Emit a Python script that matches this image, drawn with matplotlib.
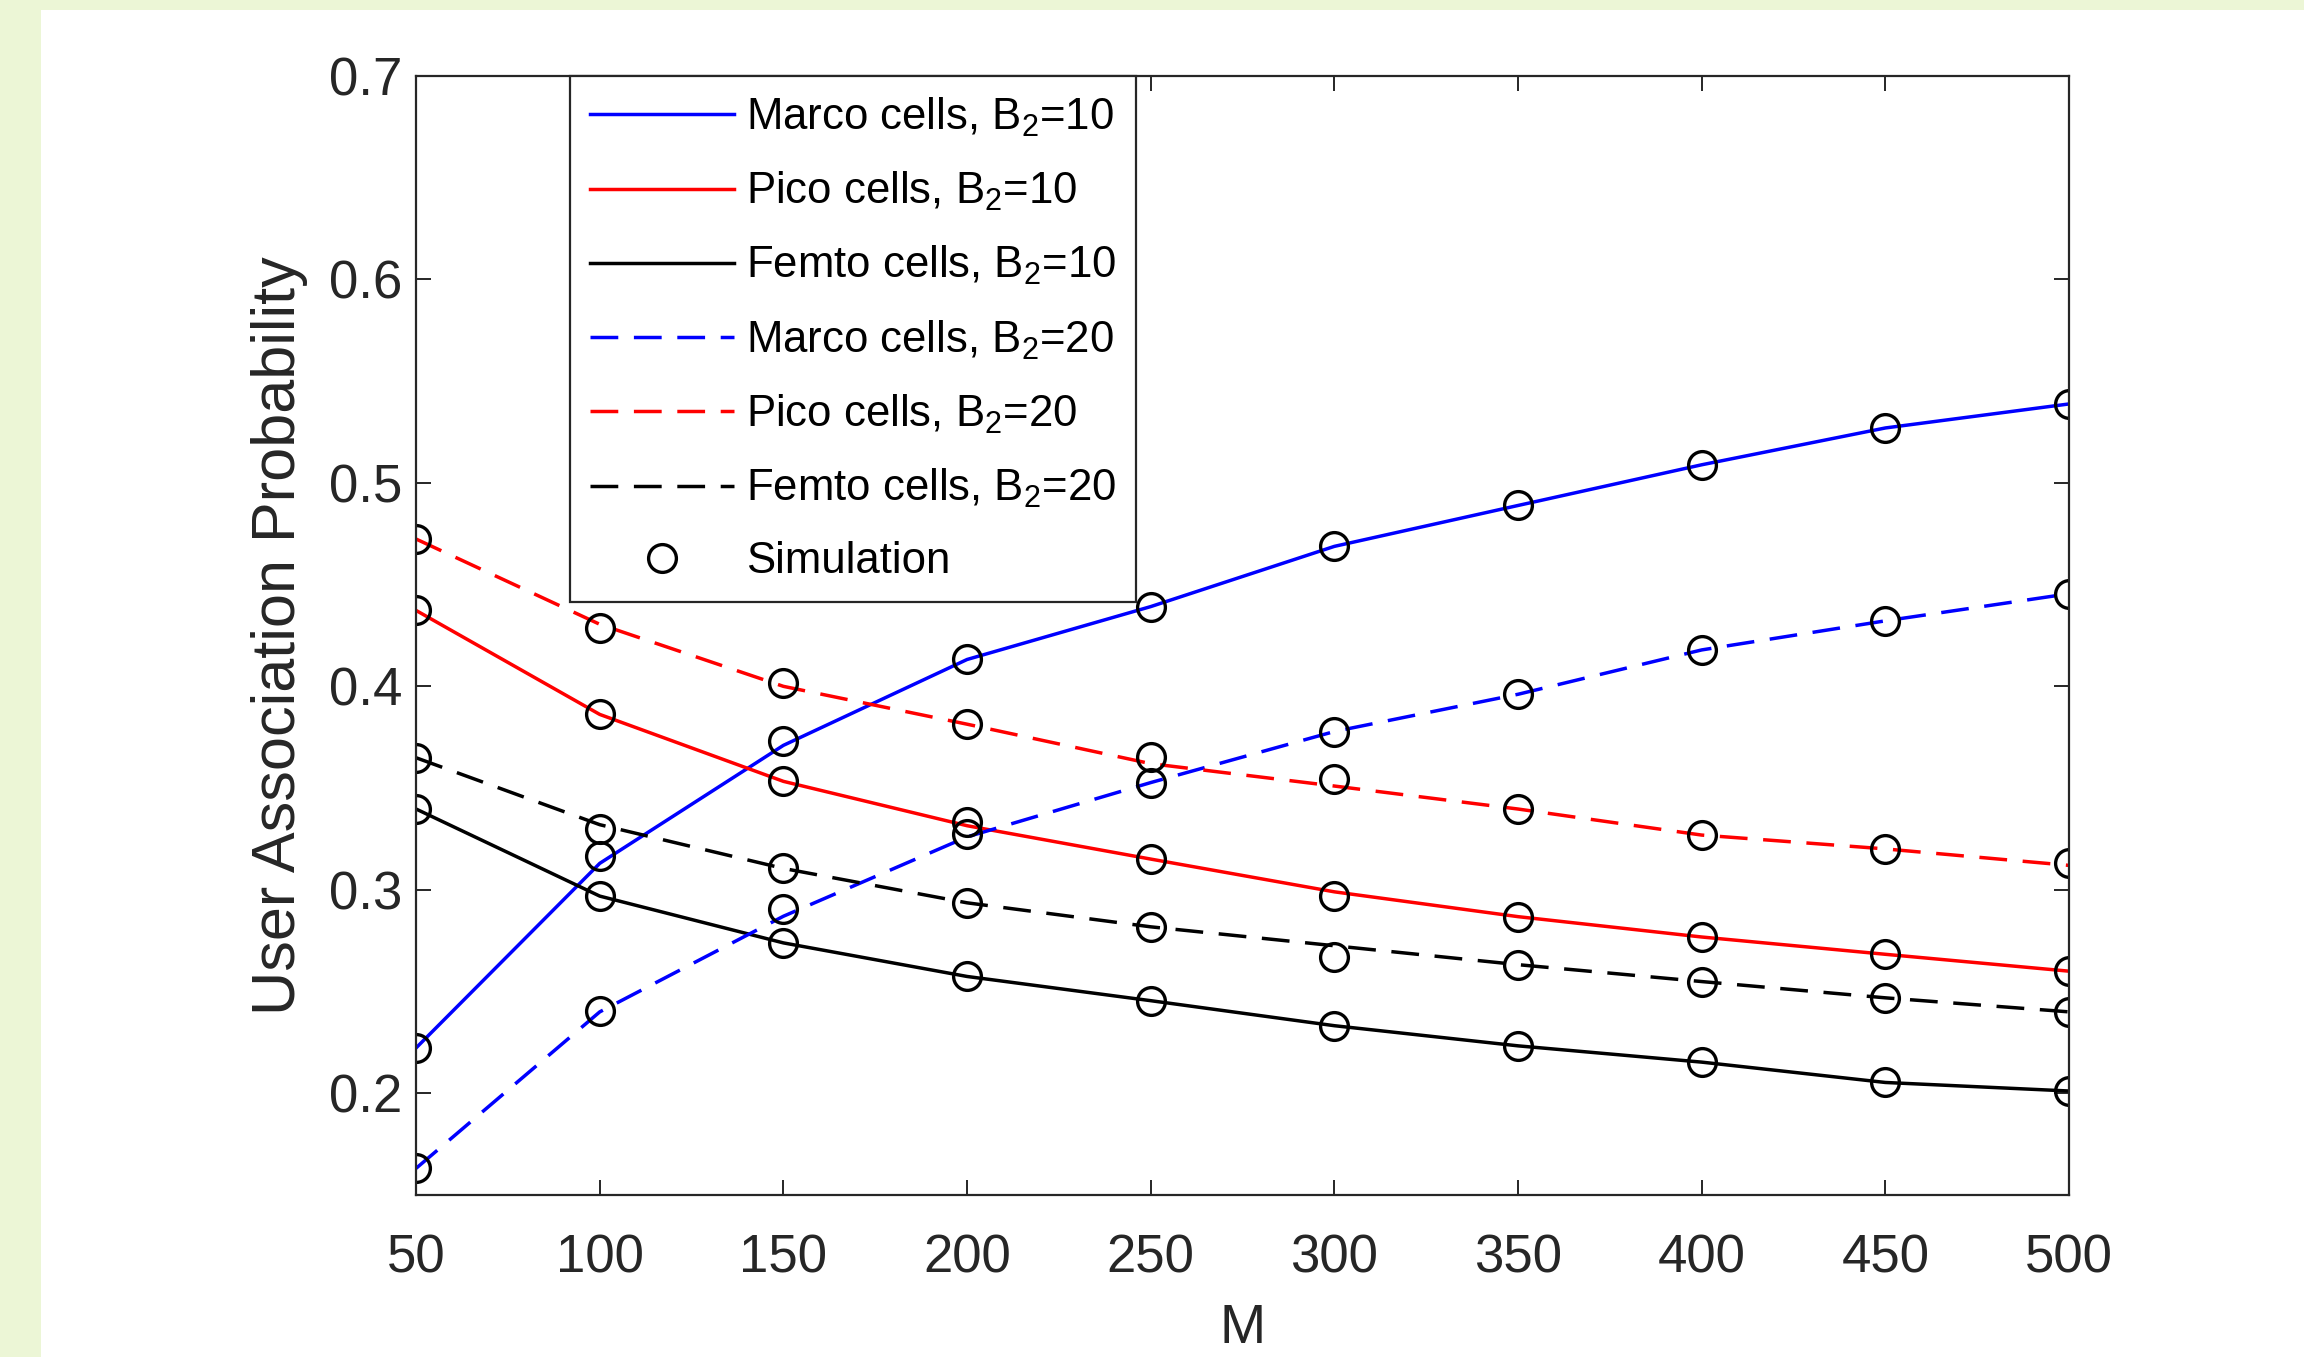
import numpy as np
import matplotlib
matplotlib.use("Agg")
import matplotlib.pyplot as plt
from matplotlib.patches import Rectangle

# data
M = [50, 100, 150, 200, 250, 300, 350, 400, 450, 500]

# analytical curves
macro_b10 = [0.2223, 0.3130, 0.3710, 0.4132, 0.4392, 0.4688, 0.4889, 0.5089, 0.5270, 0.5388]
pico_b10 = [0.4373, 0.3862, 0.3533, 0.3315, 0.3151, 0.2990, 0.2868, 0.2768, 0.2683, 0.2600]
femto_b10 = [0.3397, 0.2969, 0.2739, 0.2574, 0.2455, 0.2332, 0.2233, 0.2153, 0.2053, 0.2011]
macro_b20 = [0.1631, 0.2400, 0.2870, 0.3260, 0.3527, 0.3778, 0.3961, 0.4179, 0.4322, 0.4455]
pico_b20 = [0.4724, 0.4305, 0.4000, 0.3814, 0.3620, 0.3510, 0.3397, 0.3269, 0.3201, 0.3120]
femto_b20 = [0.3649, 0.3320, 0.3105, 0.2936, 0.2818, 0.2725, 0.2632, 0.2549, 0.2469, 0.2400]

# simulation points
sim_macro_b10 = [0.2223, 0.3167, 0.3730, 0.4132, 0.4392, 0.4688, 0.4889, 0.5089, 0.5270, 0.5388]
sim_pico_b10 = [0.4373, 0.3862, 0.3533, 0.3331, 0.3151, 0.2971, 0.2868, 0.2768, 0.2683, 0.2600]
sim_femto_b10 = [0.3397, 0.2969, 0.2739, 0.2574, 0.2455, 0.2332, 0.2233, 0.2153, 0.2053, 0.2011]
sim_macro_b20 = [0.1631, 0.2403, 0.2908, 0.3272, 0.3527, 0.3778, 0.3961, 0.4179, 0.4322, 0.4455]
sim_pico_b20 = [0.4724, 0.4289, 0.4015, 0.3814, 0.3653, 0.3545, 0.3397, 0.3269, 0.3201, 0.3131]
sim_femto_b20 = [0.3649, 0.3298, 0.3105, 0.2936, 0.2818, 0.2670, 0.2632, 0.2549, 0.2469, 0.2400]

plt.rcParams['font.family'] = ['Liberation Sans', 'DejaVu Sans']
plt.rcParams['mathtext.fontset'] = 'custom'
plt.rcParams['mathtext.rm'] = 'Liberation Sans'
plt.rcParams['mathtext.it'] = 'Liberation Sans:italic'

fig = plt.figure(figsize=(23.04, 13.57), dpi=100, facecolor='#ecf6d6')
fig.add_artist(Rectangle((41 / 2304, 0), 1, 1 - 10 / 1357, transform=fig.transFigure,
                         facecolor='white', edgecolor='none', zorder=0))

ax = fig.add_axes([0.1806, 0.1194, 0.7174, 0.8246])
ax.set_facecolor('white')

lw = 2.5
dash = (0, (8, 4.5))
ax.plot(M, macro_b10, color='blue', lw=lw, label='Marco cells, B$_2$=10')
ax.plot(M, pico_b10, color='red', lw=lw, label='Pico cells, B$_2$=10')
ax.plot(M, femto_b10, color='black', lw=lw, label='Femto cells, B$_2$=10')
ax.plot(M, macro_b20, color='blue', lw=lw, ls=dash, label='Marco cells, B$_2$=20')
ax.plot(M, pico_b20, color='red', lw=lw, ls=dash, label='Pico cells, B$_2$=20')
ax.plot(M, femto_b20, color='black', lw=lw, ls=dash, label='Femto cells, B$_2$=20')

sims = [sim_macro_b10, sim_pico_b10, sim_femto_b10, sim_macro_b20, sim_pico_b20, sim_femto_b20]
for i, s in enumerate(sims):
    ax.plot(M, s, ls='none', marker='o', ms=20, mfc='none', mec='black', mew=2.4,
            label='Simulation' if i == 0 else None)

ax.set_xlim(50, 500)
ax.set_ylim(0.15, 0.7)
ax.set_xticks(np.arange(50, 501, 50))
ax.set_yticks([0.2, 0.3, 0.4, 0.5, 0.6, 0.7])
ax.set_yticklabels(['0.2', '0.3', '0.4', '0.5', '0.6', '0.7'])

for sp in ax.spines.values():
    sp.set_color('#262626')
    sp.set_linewidth(1.6)
ax.tick_params(direction='in', length=11, width=1.4, color='#262626', labelcolor='#262626',
               labelsize=38, top=True, right=True)
ax.tick_params(axis='x', pad=28)
ax.tick_params(axis='y', pad=10)

ax.set_xlabel('M', fontsize=40, color='#262626', labelpad=14)
ax.set_ylabel('User Association Probability', fontsize=44, color='#262626', labelpad=15)

leg = ax.legend(loc='upper left', bbox_to_anchor=(0.093, 1.0), borderaxespad=0,
                fontsize=31.5, handlelength=3.3, handletextpad=0.27, labelspacing=0.71,
                frameon=True, fancybox=False, framealpha=1, borderpad=0.45)
leg.get_frame().set_edgecolor('#262626')
leg.get_frame().set_linewidth(1.6)

fig.savefig('out.png', dpi=100, facecolor=fig.get_facecolor())
